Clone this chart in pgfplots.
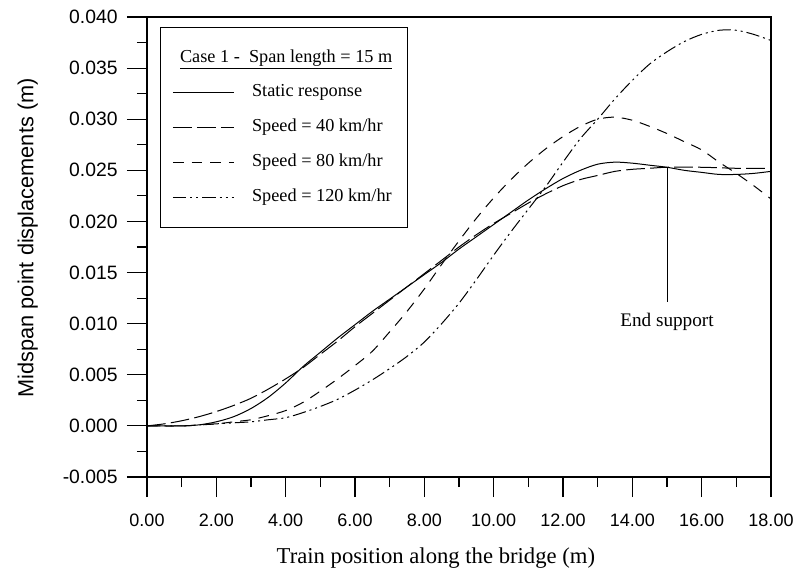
\documentclass[border=0pt]{standalone}
\usepackage{pgfplots}
\pgfplotsset{compat=1.18}
\usepackage{pgfplotstable}
\usepackage{fontspec}
\setmainfont{Liberation Serif}
\newfontfamily\arialfont{Liberation Sans}

% midspan displacement (m) vs train position (m)
\pgfplotstableread{
x      y
0.0    0.0000
1.0    0.0000
1.5    0.0001
2.0    0.0004
2.5    0.0009
3.0    0.0017
3.5    0.0028
4.0    0.0042
4.5    0.0058
5.0    0.0072
5.5    0.0086
6.0    0.0099
6.5    0.0112
7.0    0.0124
7.5    0.0136
8.0    0.0148
8.5    0.0160
9.0    0.0173
9.5    0.0185
10.0   0.0197
10.5   0.0209
11.0   0.0221
11.5   0.0232
12.0   0.0242
12.5   0.0250
13.0   0.0256
13.5   0.0258
14.0   0.0257
14.5   0.0255
15.0   0.0253
15.5   0.0250
16.0   0.0248
16.5   0.0246
17.0   0.0246
17.5   0.0247
18.0   0.0249
}\staticresp

\pgfplotstableread{
x      y
0.0    0.0000
0.5    0.0002
1.0    0.0005
1.5    0.0009
2.0    0.0014
2.5    0.0020
3.0    0.0027
3.5    0.0036
4.0    0.0046
4.5    0.0057
5.0    0.0070
5.5    0.0083
6.0    0.0097
6.5    0.0110
7.0    0.0123
7.5    0.0136
8.0    0.0149
8.5    0.0162
9.0    0.0175
9.5    0.0187
10.0   0.0198
10.5   0.0208
11.0   0.0218
11.5   0.0227
12.0   0.0235
12.5   0.0241
13.0   0.0245
13.5   0.0249
14.0   0.0251
14.5   0.0252
15.0   0.0253
16.0   0.0253
17.0   0.0252
18.0   0.0252
}\speedforty

\pgfplotstableread{
x      y
0.0    0.0000
1.0    0.0000
2.0    0.0002
2.5    0.0004
3.0    0.0006
3.5    0.0010
4.0    0.0015
4.5    0.0023
5.0    0.0034
5.5    0.0046
6.0    0.0059
6.5    0.0073
7.0    0.0092
7.5    0.0112
8.0    0.0134
8.5    0.0158
9.0    0.0181
9.5    0.0203
10.0   0.0223
10.5   0.0241
11.0   0.0257
11.5   0.0271
12.0   0.0283
12.5   0.0293
13.0   0.0300
13.5   0.0302
14.0   0.0299
14.5   0.0293
15.0   0.0286
15.5   0.0278
16.0   0.0270
16.5   0.0258
17.0   0.0247
17.5   0.0235
18.0   0.0222
}\speedeighty

\pgfplotstableread{
x      y
0.0    0.0000
1.0    0.0000
1.5    0.0001
2.0    0.0002
2.5    0.0003
3.0    0.0004
3.5    0.0006
4.0    0.0008
4.5    0.0013
5.0    0.0019
5.5    0.0026
6.0    0.0035
6.5    0.0045
7.0    0.0056
7.5    0.0068
8.0    0.0082
8.5    0.0100
9.0    0.0120
9.5    0.0143
10.0   0.0167
10.5   0.0190
11.0   0.0212
11.5   0.0234
12.0   0.0258
12.5   0.0281
13.0   0.0300
13.5   0.0320
14.0   0.0338
14.5   0.0354
15.0   0.0366
15.5   0.0376
16.0   0.0383
16.5   0.0387
17.0   0.0387
17.5   0.0383
18.0   0.0377
}\speedonetwenty

\begin{document}
\begin{tikzpicture}
\useasboundingbox (-110.25pt,-72.75pt) rectangle (489pt,357.75pt);
\begin{axis}[
    scale only axis,
    width=468pt, height=345pt,
    xmin=0, xmax=18,
    ymin=-0.005, ymax=0.040,
    xtick={0,2,4,6,8,10,12,14,16,18},
    ytick={-0.005,0,0.005,0.01,0.015,0.02,0.025,0.03,0.035,0.04},
    minor x tick num=1,
    minor y tick num=1,
    scaled y ticks=false,
    tick align=outside,
    tick pos=left,
    major tick length=15pt,
    minor tick length=7.5pt,
    axis line style={line width=0.9pt},
    every tick/.style={black, line width=0.9pt},
    /pgf/number format/assume math mode=true,
    xticklabel style={font=\arialfont\fontsize{13.5}{16}\selectfont, yshift=-9.5pt,
        /pgf/number format/.cd, fixed, fixed zerofill, precision=2},
    yticklabel style={font=\arialfont\fontsize{14.5}{17}\selectfont, xshift=-3.5pt,
        /pgf/number format/.cd, fixed, fixed zerofill, precision=3},
    xlabel={Train position along the bridge (m)},
    ylabel={Midspan point displacements (m)},
    xlabel style={font=\fontsize{17}{20}\selectfont,
        at={(axis description cs:0.463,-0.176)}, anchor=center},
    ylabel style={font=\arialfont\fontsize{16.3}{19}\selectfont,
        at={(axis description cs:-0.191,0.52)}, anchor=center},
    legend cell align=left,
    legend image code/.code={\draw[#1] (0pt,0pt) -- (46pt,0pt);},
    legend style={at={(0,1)}, anchor=north west, xshift=9.75pt, yshift=-7.5pt,
        draw=black, line width=0.6pt, inner xsep=9pt, inner ysep=14pt,
        row sep=8.7pt, column sep=11pt,
        font=\fontsize{13.7}{16}\selectfont,
        nodes={inner sep=2pt, text height=10pt, text depth=3.5pt}},
]
\addlegendimage{empty legend}
\addlegendentry{\hspace*{-54pt}\underline{Case 1 -\ \ Span length = 15 m}}

\addplot[black, line width=0.75pt, smooth] table[x=x, y=y] {\staticresp};
\addlegendentry{Static response}
\addplot[black, line width=0.75pt, smooth, dash pattern=on 14pt off 4pt] table[x=x, y=y] {\speedforty};
\addlegendentry{Speed = 40 km/hr}
\addplot[black, line width=0.75pt, smooth, dash pattern=on 8pt off 6pt] table[x=x, y=y] {\speedeighty};
\addlegendentry{Speed = 80 km/hr}
\addplot[black, line width=0.75pt, smooth,
    dash pattern=on 10pt off 3pt on 1.5pt off 3pt on 1.5pt off 3pt] table[x=x, y=y] {\speedonetwenty};
\addlegendentry{Speed = 120 km/hr}

% end support marker
\addplot[black, line width=0.75pt, forget plot] coordinates {(15,0.0253) (15,0.0121)};
\node[font=\fontsize{14.4}{17}\selectfont, anchor=center] at (axis cs:15,0.0102) {End support};
\end{axis}
\end{tikzpicture}
\end{document}
